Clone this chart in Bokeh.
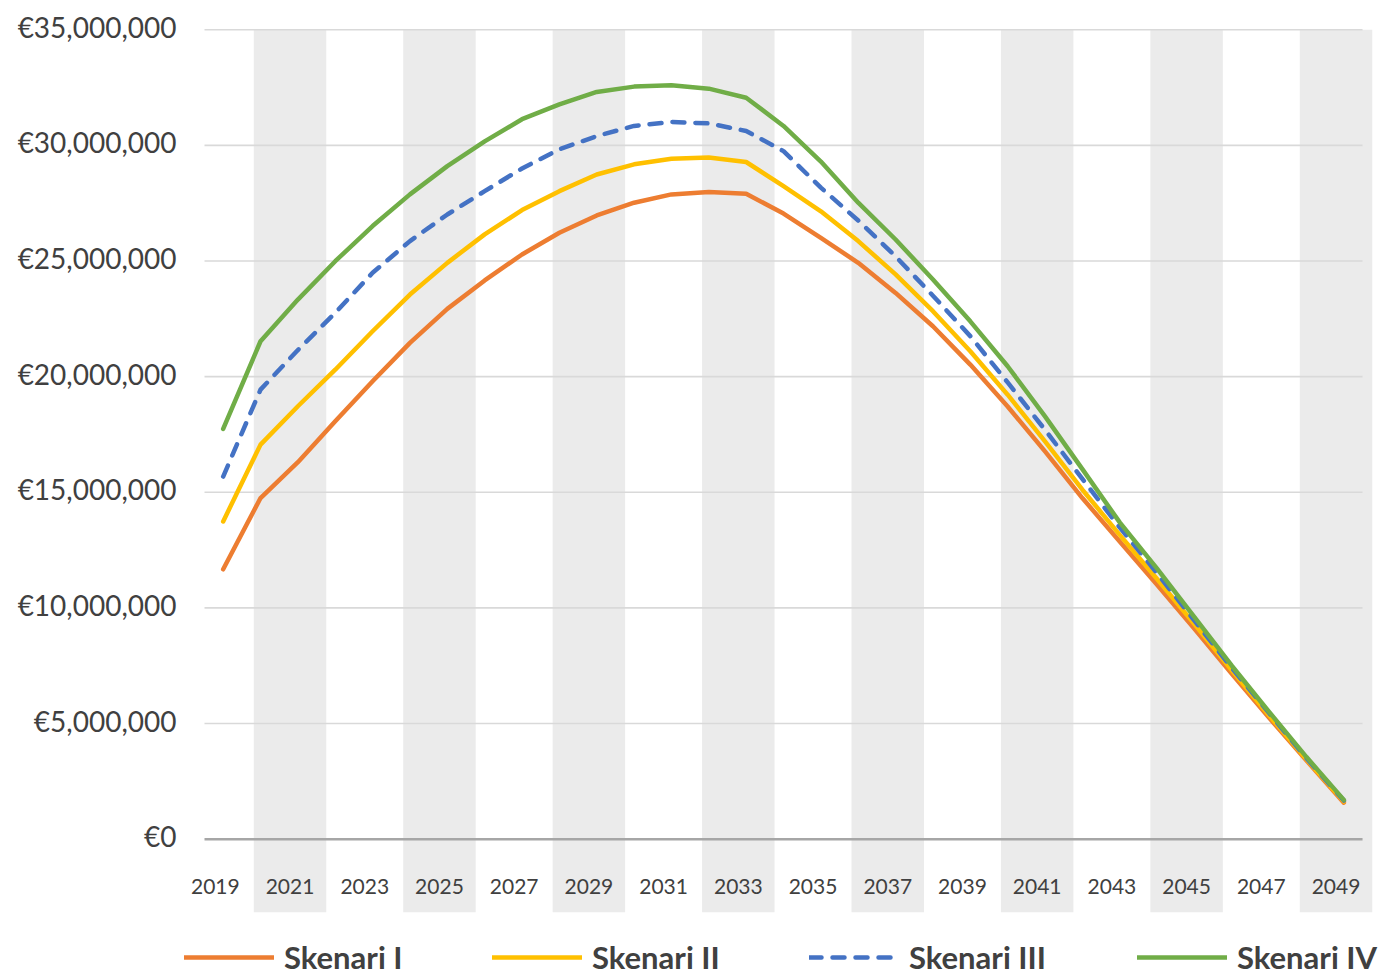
from bokeh.plotting import figure
from bokeh.models import Legend, LegendItem, ColumnDataSource
from bokeh.core.properties import value
from bokeh.embed import file_html
from bokeh.resources import INLINE

# ---------------- data ----------------
years = list(range(2019, 2050))

skenari_1 = [11.67, 14.75, 16.30, 18.07, 19.80, 21.46, 22.93, 24.16, 25.28, 26.22,
             26.97, 27.52, 27.88, 27.98, 27.91, 27.05, 26.00, 24.92, 23.62, 22.18,
             20.52, 18.71, 16.77, 14.75, 12.87, 11.00, 9.10, 7.15, 5.25, 3.40, 1.58]
skenari_2 = [13.74, 17.06, 18.72, 20.30, 21.96, 23.55, 24.92, 26.15, 27.20, 28.02,
             28.74, 29.18, 29.42, 29.47, 29.28, 28.24, 27.15, 25.86, 24.42, 22.83,
             21.10, 19.22, 17.20, 15.11, 13.16, 11.25, 9.30, 7.30, 5.35, 3.45, 1.63]
skenari_3 = [15.68, 19.44, 21.15, 22.76, 24.49, 25.86, 27.01, 28.02, 29.00, 29.83,
             30.40, 30.84, 31.01, 30.95, 30.62, 29.75, 28.17, 26.75, 25.20, 23.50,
             21.75, 19.75, 17.70, 15.58, 13.48, 11.50, 9.45, 7.40, 5.45, 3.50, 1.67]
skenari_4 = [17.74, 21.53, 23.33, 24.99, 26.51, 27.88, 29.10, 30.17, 31.13, 31.77,
             32.31, 32.54, 32.60, 32.45, 32.06, 30.84, 29.30, 27.52, 25.93, 24.20,
             22.39, 20.45, 18.28, 16.00, 13.70, 11.70, 9.60, 7.50, 5.50, 3.55, 1.70]

series_names = ["Skenari I", "Skenari II", "Skenari III", "Skenari IV"]
series_values_millions = [skenari_1, skenari_2, skenari_3, skenari_4]

y_ticks = [0, 5_000_000, 10_000_000, 15_000_000, 20_000_000, 25_000_000, 30_000_000, 35_000_000]
y_tick_labels = ["€0", "€5,000,000", "€10,000,000", "€15,000,000", "€20,000,000",
                 "€25,000,000", "€30,000,000", "€35,000,000"]
x_tick_years = years[::2]
x_tick_labels = [str(y) for y in x_tick_years]
band_years = years[2::4]

# ---------------- geometry / style ----------------
W, H = 1381, 976
PX_PER_YEAR = 37.356
EUR_PER_PX = 43_237
CAT_LEFT_PX = 204          # screen x where the category area starts
ZERO_PX = 838.7            # screen y of the value 0
X_START = years[0] - 0.5 - CAT_LEFT_PX / PX_PER_YEAR
X_END = X_START + W / PX_PER_YEAR
Y_END = ZERO_PX * EUR_PER_PX
Y_START = -(H - ZERO_PX) * EUR_PER_PX
BAND_BOTTOM = -73 * EUR_PER_PX
LABEL_Y = -47 * EUR_PER_PX
YLABEL_X = years[0] - 0.5 - 28 / PX_PER_YEAR

colors = ["#ED7D31", "#FFC000", "#4472C4", "#70AD47"]
dashes = ["solid", "solid", "12 11", "solid"]
TEXT = "#404040"
LABEL_SHIFT = -0.21      # category labels / bands sit slightly left of points
BAND_W = 1.94

p = figure(width=W, height=H,
           x_range=(X_START, X_END), y_range=(Y_START, Y_END),
           output_backend="svg", toolbar_location=None,
           x_axis_location=None, y_axis_location=None,
           min_border_left=0, min_border_right=0,
           min_border_top=0, min_border_bottom=0)
p.outline_line_color = None
p.xgrid.visible = False
p.ygrid.visible = False
p.background_fill_color = "white"
p.border_fill_color = "white"

# alternating bands
band_src = ColumnDataSource(dict(x=[y + LABEL_SHIFT for y in band_years]))
p.vbar(x="x", width=BAND_W, bottom=BAND_BOTTOM, top=y_ticks[-1], source=band_src,
       fill_color="#EBEBEB", line_color=None)

# horizontal gridlines (within category extent)
grid_src = ColumnDataSource(dict(
    x0=[years[0] - 0.5] * (len(y_ticks) - 1),
    x1=[years[-1] + 0.5] * (len(y_ticks) - 1),
    y=y_ticks[1:]))
p.segment(x0="x0", x1="x1", y0="y", y1="y", source=grid_src,
          line_color="#D9D9D9", line_width=1.6)
# category axis line
p.segment(x0=[years[0] - 0.5], x1=[years[-1] + 0.5], y0=[0], y1=[0],
          line_color="#A6A6A6", line_width=2.5)

# value-axis labels
ylab_src = ColumnDataSource(dict(x=[YLABEL_X] * len(y_ticks), y=y_ticks, t=y_tick_labels))
p.text(x="x", y="y", text="t", source=ylab_src, text_align="right",
       text_baseline="middle", y_offset=-3, text_font=value("Lato"),
       text_font_size="28px", text_color=TEXT)

# category labels
lab_src = ColumnDataSource(dict(x=[y + LABEL_SHIFT for y in x_tick_years],
                                y=[LABEL_Y] * len(x_tick_years),
                                t=x_tick_labels))
p.text(x="x", y="y", text="t", source=lab_src, text_align="center",
       text_baseline="middle", text_font=value("Lato"),
       text_font_size="21px", text_color=TEXT)

# series lines
renderers = []
for name, vals, c, d in zip(series_names, series_values_millions, colors, dashes):
    r = p.line(years, [v * 1_000_000 for v in vals], line_color=c, line_width=4.5,
               line_dash=d, line_cap="round", line_join="round")
    renderers.append(r)

# legends (one per entry, placed below the category labels)
legend_x = [184, 492, 809, 1137]
for name, r, lx in zip(series_names, renderers, legend_x):
    leg = Legend(items=[LegendItem(label=name, renderers=[r])],
                 location=(lx, 0), orientation="horizontal",
                 glyph_width=90, glyph_height=20, label_standoff=10,
                 padding=0, margin=0, border_line_color=None,
                 background_fill_alpha=0,
                 label_text_font="Lato", label_text_font_style="bold",
                 label_text_font_size="31px", label_text_color=TEXT)
    p.add_layout(leg)

open("out.html", "w").write(file_html(p, INLINE))
